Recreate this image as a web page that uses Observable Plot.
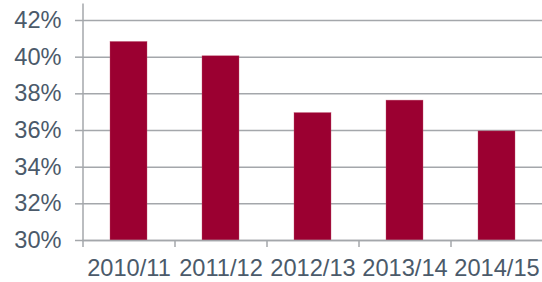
<!DOCTYPE html>
<html>
<head>
<meta charset="utf-8">
<script src="https://cdn.jsdelivr.net/npm/d3@7"></script>
<script src="https://cdn.jsdelivr.net/npm/@observablehq/plot@0.6"></script>
<style>
  html, body { margin: 0; padding: 0; background: #fff; }
  #chart svg { display: block; background: linear-gradient(to bottom, #ffffff 0px, #ffffff 244px, #f5f5f7 250px, #f8f8fa 282px); }
</style>
</head>
<body>
<div id="chart"></div>
<script>
const categories = ["2010/11", "2011/12", "2012/13", "2013/14", "2014/15"];
const values = [40.83, 40.05, 36.95, 37.63, 35.95];
const yTicks = [30, 32, 34, 36, 38, 40, 42];

const data = categories.map((c, i) => ({category: c, value: values[i]}));

const gridColor = "#a4a7ab";
const textColor = "#4b5a6a";
const barColor = "#9b0031";
const halfStep = 46;

const chart = Plot.plot({
  width: 542,
  height: 282,
  marginLeft: 82,
  marginRight: 0,
  marginTop: 20,
  marginBottom: 42,
  style: {fontFamily: "'Liberation Sans', Arial, sans-serif", fontSize: "23.6px", color: textColor, background: "transparent"},
  x: {domain: categories, paddingInner: 0.6, paddingOuter: 0.3, align: 0.5},
  y: {domain: [30, 42]},
  marks: [
    Plot.ruleY(yTicks, {stroke: gridColor, strokeWidth: 1.5, strokeOpacity: 1}),
    Plot.axisY({ticks: yTicks, tickFormat: d => d + "%", tickSize: 7, tickPadding: 14, stroke: gridColor, strokeWidth: 1.5, strokeOpacity: 1, fill: textColor, label: null}),
    Plot.barY(data, {x: "category", y1: 30, y2: "value", fill: barColor, stroke: "#c0506e", strokeWidth: 0.6, strokeOpacity: 0.6}),
    Plot.ruleX([categories[0]], {dx: -halfStep, y1: 42.9, y2: 29.62, stroke: gridColor, strokeWidth: 1.5}),
    Plot.ruleX(categories.slice(1), {dx: -halfStep, y1: 30, y2: 29.62, stroke: gridColor, strokeWidth: 1.5}),
    Plot.axisX({tickSize: 0, tickPadding: 19, fill: textColor, label: null}),
    Plot.ruleY([30], {stroke: gridColor, strokeWidth: 1.5})
  ]
});
document.getElementById("chart").appendChild(chart);
</script>
</body>
</html>
